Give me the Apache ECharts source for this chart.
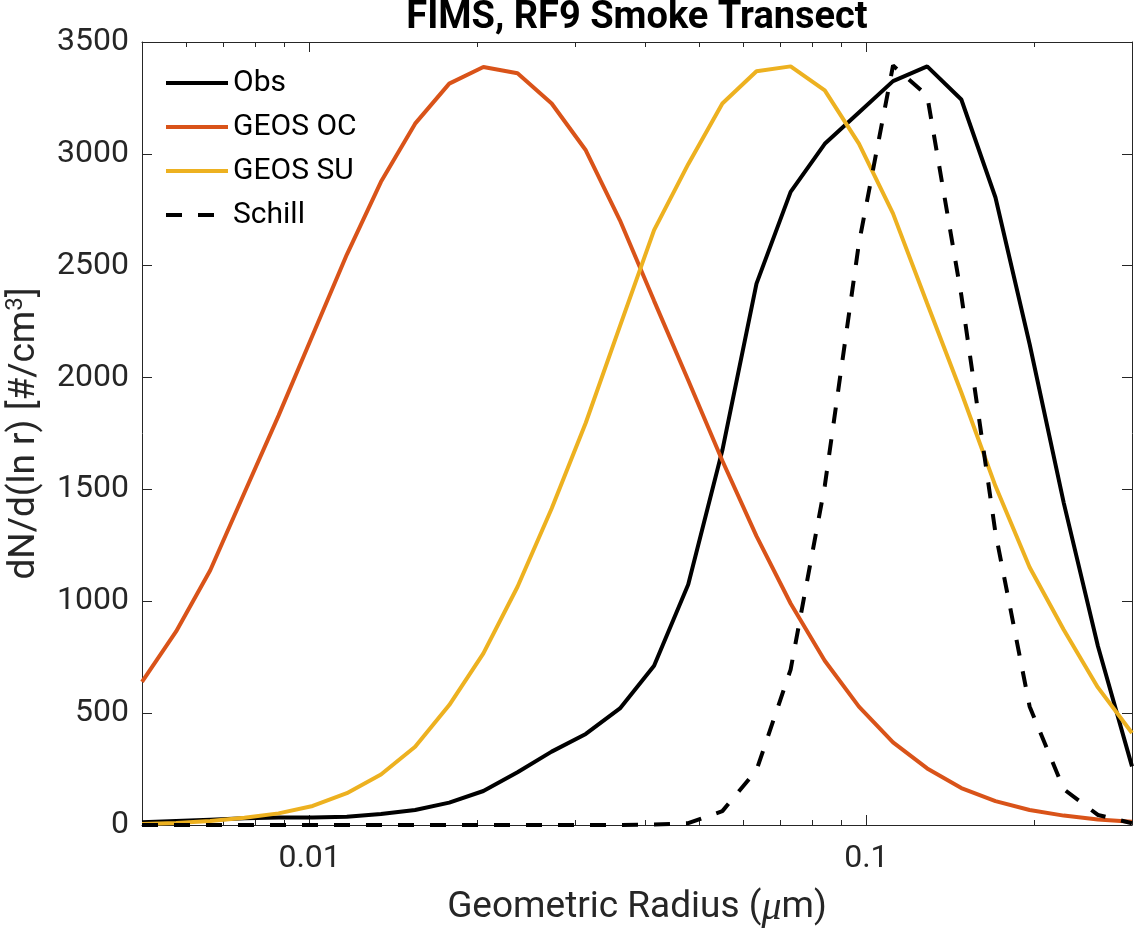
<!DOCTYPE html>
<html>
<head>
<meta charset="utf-8">
<title>FIMS, RF9 Smoke Transect</title>
<script src="https://cdn.jsdelivr.net/npm/echarts@6/dist/echarts.min.js"></script>
<style>
html, body { margin: 0; padding: 0; background: #fff; }
#chart { width: 1135px; height: 931px; }
</style>
</head>
<body>
<div id="chart"></div>
<script>
// radius bins (um)
var radius = [0.005, 0.005758, 0.006631, 0.007637, 0.008795, 0.010129, 0.011665, 0.013433,
  0.015471, 0.017816, 0.020518, 0.023630, 0.027213, 0.031339, 0.036091, 0.041564,
  0.047867, 0.055126, 0.063485, 0.073112, 0.084198, 0.096966, 0.111670, 0.128604,
  0.148105, 0.170564, 0.196428, 0.226214, 0.260518, 0.3];

var obs = [12, 18, 24, 30, 34, 34, 37, 49, 67, 100, 152, 236, 328, 407, 521, 712,
  1075, 1675, 2420, 2830, 3045, 3185, 3325, 3391, 3243, 2805, 2150, 1440, 800, 262];
var geosOC = [640, 865, 1139, 1485, 1830, 2190, 2550, 2875, 3135, 3314, 3388, 3360, 3225, 3016, 2703, 2343,
  1988, 1628, 1291, 990, 734, 529, 369, 253, 165, 107, 67, 42, 25, 14];
var geosSU = [5, 9, 18, 32, 52, 85, 142, 226, 350, 536, 767, 1065, 1415, 1798, 2230, 2659,
  2954, 3225, 3369, 3391, 3284, 3046, 2733, 2331, 1933, 1515, 1152, 873, 615, 411];
var schill = [0, 0, 0, 0, 0, 0, 0, 0, 0, 0, 0, 0, 0, 0, 0, 2,
  8, 62, 245, 695, 1515, 2600, 3395, 3260, 2368, 1306, 530, 160, 45, 8];

var xMin = 0.005, xMax = 0.3;
var xMinorTicks = [0.006, 0.007, 0.008, 0.009, 0.02, 0.03, 0.04, 0.05, 0.06, 0.07, 0.08, 0.09, 0.2, 0.3];
var yMax = 3500, yStep = 500;

var axisColor = '#262626';
var font = 'Roboto';

function pairs(ys) {
  return radius.map(function (r, i) { return [r, ys[i]]; });
}

function boxLine(show) {
  return { show: show, onZero: false, lineStyle: { color: axisColor, width: 1 } };
}

var chart = echarts.init(document.getElementById('chart'));

var gridBox = { left: 142, right: 3, top: 42, bottom: 106, containLabel: false, outerBoundsMode: 'none' };

var option = {
  animation: false,
  backgroundColor: '#fff',
  textStyle: { fontFamily: font },
  grid: [gridBox, gridBox],
  legend: {
    orient: 'vertical',
    left: 159,
    top: 63,
    padding: 5,
    itemWidth: 62,
    itemHeight: 14,
    itemGap: 14,
    itemStyle: { opacity: 0, borderWidth: 0 },
    lineStyle: { width: 'inherit' },
    textStyle: { fontSize: 30, color: '#000', fontFamily: font },
    data: ['Obs', 'GEOS OC', 'GEOS SU', 'Schill']
  },
  xAxis: [
    {
      type: 'log', gridIndex: 0, position: 'bottom', logBase: 10, min: xMin, max: xMax,
      name: 'Geometric Radius ({i|μ}m)',
      nameLocation: 'middle', nameGap: 63,
      nameTextStyle: {
        fontSize: 37, color: axisColor, fontFamily: font,
        rich: { i: { fontSize: 40, fontStyle: 'italic', fontFamily: 'Liberation Serif', color: axisColor } }
      },
      axisLine: boxLine(true),
      axisTick: { show: true, inside: true, length: 10, lineStyle: { color: axisColor } },
      axisLabel: {
        show: true, margin: 18, fontSize: 32, color: axisColor, fontFamily: font,
        formatter: function (v) {
          var e = Math.log10(v);
          return Math.abs(e - Math.round(e)) < 1e-6 ? String(v) : '';
        }
      },
      splitLine: { show: false }
    },
    {
      type: 'log', gridIndex: 0, position: 'top', logBase: 10, min: xMin, max: xMax,
      name: 'FIMS, RF9 Smoke Transect',
      nameLocation: 'middle', nameGap: 5,
      nameTextStyle: { fontSize: 38, fontWeight: 'bold', color: '#000', fontFamily: font },
      axisLine: boxLine(true),
      axisTick: { show: true, inside: true, length: 10, lineStyle: { color: axisColor } },
      axisLabel: { show: false },
      splitLine: { show: false }
    },
    {
      type: 'value', gridIndex: 1, position: 'bottom',
      min: Math.log10(xMin), max: Math.log10(xMax),
      axisLine: boxLine(false),
      axisTick: { show: true, inside: true, length: 5, customValues: xMinorTicks.map(Math.log10), lineStyle: { color: axisColor } },
      axisLabel: { show: false },
      splitLine: { show: false }
    },
    {
      type: 'value', gridIndex: 1, position: 'top',
      min: Math.log10(xMin), max: Math.log10(xMax),
      axisLine: boxLine(false),
      axisTick: { show: true, inside: true, length: 5, customValues: xMinorTicks.map(Math.log10), lineStyle: { color: axisColor } },
      axisLabel: { show: false },
      splitLine: { show: false }
    }
  ],
  yAxis: [
    {
      type: 'value', gridIndex: 0, position: 'left', min: 0, max: yMax, interval: yStep,
      name: 'dN/d(ln r) [#/cm{s|3}]',
      nameLocation: 'middle', nameGap: 94, nameRotate: 90,
      nameTextStyle: {
        fontSize: 37, color: axisColor, fontFamily: font, lineHeight: 42,
        rich: { s: { fontSize: 24, color: axisColor, fontFamily: font, verticalAlign: 'top', lineHeight: 25 } }
      },
      axisLine: boxLine(true),
      axisTick: { show: true, inside: true, length: 10, lineStyle: { color: axisColor } },
      axisLabel: { show: true, margin: 13, fontSize: 32, color: axisColor, fontFamily: font,
        formatter: function (v) { return String(v); } },
      splitLine: { show: false }
    },
    {
      type: 'value', gridIndex: 0, position: 'right', min: 0, max: yMax, interval: yStep,
      axisLine: boxLine(true),
      axisTick: { show: true, inside: true, length: 10, lineStyle: { color: axisColor } },
      axisLabel: { show: false },
      splitLine: { show: false }
    },
    { type: 'value', gridIndex: 1, show: false, min: 0, max: 1, splitLine: { show: false } }
  ],
  series: [
    {
      name: 'Obs', type: 'line', xAxisIndex: 0, yAxisIndex: 0, data: pairs(obs),
      symbol: 'none', clip: true,
      lineStyle: { color: '#000000', width: 4 }, itemStyle: { color: '#000000' }
    },
    {
      name: 'GEOS OC', type: 'line', xAxisIndex: 0, yAxisIndex: 0, data: pairs(geosOC),
      symbol: 'none', clip: true,
      lineStyle: { color: '#D95319', width: 4 }, itemStyle: { color: '#D95319' }
    },
    {
      name: 'GEOS SU', type: 'line', xAxisIndex: 0, yAxisIndex: 0, data: pairs(geosSU),
      symbol: 'none', clip: true,
      lineStyle: { color: '#EDB120', width: 4 }, itemStyle: { color: '#EDB120' }
    },
    {
      name: 'Schill', type: 'line', xAxisIndex: 0, yAxisIndex: 0, data: pairs(schill),
      symbol: 'none', clip: true,
      lineStyle: { color: '#000000', width: 4, type: [16, 16] }, itemStyle: { color: '#000000' }
    }
  ]
};

chart.setOption(option);
window.onresize = function () { chart.resize(); };
</script>
</body>
</html>
